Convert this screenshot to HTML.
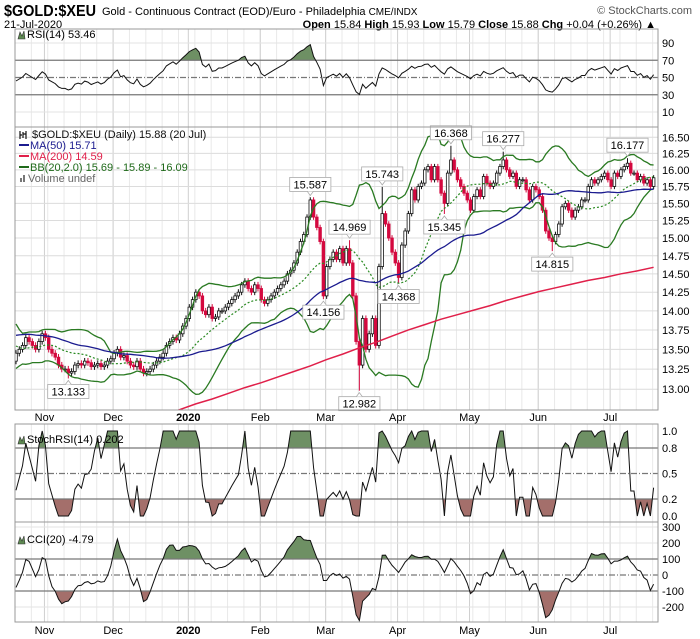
<!DOCTYPE html>
<html><head><meta charset="utf-8">
<style>
html,body{margin:0;padding:0;background:#fff;}
svg{display:block;font-family:"Liberation Sans",sans-serif;}
</style></head>
<body>
<svg id="chart" width="700" height="639" viewBox="0 0 700 639" xmlns="http://www.w3.org/2000/svg">
<text x="4" y="16" font-size="16" font-weight="bold" textLength="92" lengthAdjust="spacingAndGlyphs">$GOLD:$XEU</text>
<text x="102" y="15" font-size="11">Gold - Continuous Contract (EOD)/Euro - Philadelphia <tspan font-size="10">CME/INDX</tspan></text>
<text x="692" y="14" font-size="11" fill="#555" text-anchor="end">© StockCharts.com</text>
<text x="4" y="28" font-size="11">21-Jul-2020</text>
<text x="656" y="28" font-size="11" text-anchor="end"><tspan font-weight="bold">Open</tspan> 15.84 <tspan font-weight="bold">High</tspan> 15.93 <tspan font-weight="bold">Low</tspan> 15.79 <tspan font-weight="bold">Close</tspan> 15.88 <tspan font-weight="bold">Chg</tspan> +0.04 (+0.26%) ▲</text>
</svg>
<script>
// ---------- data ----------
const preCloses=[13.20,13.35,13.50,13.60,13.75,13.80,13.70,13.85,13.90,13.80,13.75,13.85,13.95,14.00,13.90,13.95,14.05,13.95,13.85,13.70,13.60,13.65,13.75,13.80,13.85,13.90,13.85,13.80,13.70,
13.85,13.90,13.80,13.60,13.45,13.40,13.50,13.55,13.45,13.40,13.50,13.55,13.60,13.75,13.70,13.55,13.45,13.50,13.40,13.35];
const closes=[13.45,13.50,13.55,13.65,13.60, 13.55,13.50,13.60,13.70,13.65, 13.50,13.45,13.40,13.30,13.25,
13.25,13.20,13.22,13.30,13.32, 13.30,13.35,13.33,13.28,13.30, 13.32,13.28,13.30,13.35,13.38,
13.45,13.50,13.40,13.42,13.35, 13.30,13.28,13.35,13.25,13.20, 13.22,13.25,13.30,13.35,13.40,
13.45,13.55,13.60,13.65,13.62, 13.70,13.80,13.90,14.05,14.15, 14.25,14.20,14.00,13.95,14.05,
13.90,13.92,14.00,14.00,14.05, 14.10,14.15,14.20,14.25,14.35, 14.40,14.30,14.25,14.35,14.30,
14.15,14.10,14.15,14.20,14.25, 14.30,14.35,14.40,14.50,14.55, 14.65,14.80,14.95,15.05,15.30,
15.55,15.30,15.15,14.95,14.20, 14.60,14.70,14.80,14.70,14.85, 14.65,14.85,14.65,14.20,13.60,
13.30,13.90,13.50,13.70,13.90, 13.55,14.60,15.35,15.20,15.00, 14.80,14.65,14.45,14.90,15.10,
15.35,15.70,15.55,15.75,15.80, 16.00,16.05,15.85,16.05,15.85, 15.65,15.50,15.95,16.15,16.00,
15.85,15.75,15.65,15.55,15.40, 15.60,15.70,15.60,15.90,15.80, 15.75,15.80,15.95,16.05,16.15,
16.00,15.90,15.95,15.75,15.85, 15.85,15.70,15.55,15.75,15.70, 15.60,15.40,15.10,15.00,14.95,
15.05,15.20,15.45,15.50,15.40, 15.30,15.40,15.45,15.55,15.55, 15.75,15.85,15.80,15.85,15.90,
15.95,15.85,15.75,15.95,15.90, 16.00,16.05,16.10,15.95,15.95, 15.85,15.90,15.80,15.85,15.75, 15.88];
const ma200Weekly=[12.10,12.16,12.22,12.28,12.35,12.41,12.48,12.55,12.61,12.68,12.75,12.82,12.88,12.95,13.02,13.08,13.15,13.22,13.29,13.37,
13.44,13.52,13.59,13.67,13.75,13.82,13.89,13.95,14.01,14.07,14.14,14.20,14.26,14.31,14.36,14.41,14.45,14.50,14.54,14.59];
const annIdx=[16,90,102,94,112,105,117,133,131,149,164,187];
const annVal=[13.133,15.587,14.969,14.156,15.743,12.982,14.368,16.368,15.345,16.277,14.815,16.177];
const annPos=['below','above','above','below','above','below','below','above','below','above','below','above'];
const monthIdx=[9,30,53,75,95,117,139,160,182];
const monthLabels=['Nov','Dec','2020','Feb','Mar','Apr','May','Jun','Jul'];
const priceTicks=[16.50,16.25,16.00,15.75,15.50,15.25,15.00,14.75,14.50,14.25,14.00,13.75,13.50,13.25,13.00];
const rsiTicks=[90,70,50,30,10];
const stochTicks=[1.0,0.8,0.5,0.2,0.0];
const cciTicks=[300,200,100,0,-100,-200];

// ---------- geometry ----------
const svg=document.getElementById('chart');
const NS='http://www.w3.org/2000/svg';
const L=15,R=658;
const P={rsi:[29,127],main:[127,410],stoch:[424,522],cci:[522,622]};
function xi(i){return 16+3.27*i;}
function yP(p){return 137.3+(Math.log(16.5)-Math.log(p))*1056.6;}
function yR(v){return 43+(90-v)*0.8625;}
function yS(v){return 516-85*v;}
function yC(v){return 575-0.16*v;}
function mk(tag,attrs,parent){const e=document.createElementNS(NS,tag);for(const k in attrs)e.setAttribute(k,attrs[k]);(parent||svg).appendChild(e);return e;}
function txt(x,y,s,attrs,parent){const e=mk('text',Object.assign({x:x,y:y,'font-size':11},attrs||{}),parent);e.textContent=s;return e;}

// ---------- computations ----------
const all=preCloses.concat(closes);
const N0=preCloses.length, N=closes.length;
const opens=[],highs=[],lows=[];
for(let k=0;k<all.length;k++){const o=k>0?all[k-1]:all[0];opens.push(o);highs.push(Math.max(o,all[k])+0.04);lows.push(Math.min(o,all[k])-0.04);}
for(let a=0;a<annIdx.length;a++){const k=N0+annIdx[a];if(annPos[a]==='above')highs[k]=Math.max(highs[k],annVal[a]);else lows[k]=Math.min(lows[k],annVal[a]);}
function sma(arr,k,n){let s=0;for(let j=k-n+1;j<=k;j++)s+=arr[j];return s/n;}
const ma50=[],bbM=[],bbU=[],bbL=[];
for(let i=0;i<N;i++){const k=N0+i;ma50.push(sma(all,k,50));const m=sma(all,k,20);let v=0;for(let j=k-19;j<=k;j++)v+=(all[j]-m)*(all[j]-m);const sd=Math.sqrt(v/20);bbM.push(m);bbU.push(m+2*sd);bbL.push(m-2*sd);}
const rsiAll=[];let ag=0,al=0;
for(let k=1;k<all.length;k++){const d=all[k]-all[k-1];const g=Math.max(d,0),l=Math.max(-d,0);
 if(k<=14){ag+=g/14;al+=l/14;}else{ag=(ag*13+g)/14;al=(al*13+l)/14;}
 rsiAll[k]=k>=14?(al===0?100:100-100/(1+ag/al)):null;}
const rsi=[],stoch=[],cci=[];
const tp=all.map((c,k)=>(highs[k]+lows[k]+c)/3);
for(let i=0;i<N;i++){const k=N0+i;rsi.push(rsiAll[k]);
 let mn=1e9,mx=-1e9;for(let j=k-13;j<=k;j++){mn=Math.min(mn,rsiAll[j]);mx=Math.max(mx,rsiAll[j]);}
 stoch.push(mx>mn?(rsiAll[k]-mn)/(mx-mn):0);
 const m=sma(tp,k,20);let md=0;for(let j=k-19;j<=k;j++)md+=Math.abs(tp[j]-m);md/=20;
 cci.push(md>0?(tp[k]-m)/(0.015*md):0);}

// ---------- panels ----------
const defs=mk('defs',{});
function clip(id,y0,y1){const c=mk('clipPath',{id:id},defs);mk('rect',{x:L,y:y0,width:R-L,height:y1-y0},c);}
clip('c-rsi',P.rsi[0],P.rsi[1]);clip('c-main',P.main[0],P.main[1]);clip('c-stoch',P.stoch[0],P.stoch[1]);clip('c-cci',P.cci[0],P.cci[1]);

function grid(name,y0,y1){
 const g=mk('g',{});
 
 
 for(let w=0;w*5<N;w++){mk('line',{x1:xi(w*5)-1,x2:xi(w*5)-1,y1:y0,y2:y1,stroke:'#e9e9e9','stroke-width':1},g);}
 for(let m=0;m<monthIdx.length;m++){mk('line',{x1:xi(monthIdx[m])-1,x2:xi(monthIdx[m])-1,y1:y0,y2:y1,stroke:'#cfcfcf','stroke-width':1},g);}
 return g;}
function hline(y,dash,col,name){const e=mk('line',{x1:L,x2:R,y1:y,y2:y,stroke:col||'#777','stroke-width':1.2,'stroke-dasharray':dash||'none'});
 
 return e;}
function poly(vals,yf,col,w,dash,clipId,name){let d='';vals.forEach((v,i)=>{if(v==null)return;d+=(d?'L':'M')+xi(i).toFixed(1)+','+yf(v).toFixed(1);});
 const e=mk('path',{d:d,fill:'none',stroke:col,'stroke-width':w,'stroke-dasharray':dash||'none','clip-path':'url(#'+clipId+')'});
 
 return e;}
function area(vals,yf,thr,above,col,y0,y1,name){const id='cl-'+name;const c=mk('clipPath',{id:id},defs);
 const yt=yf(thr);if(above)mk('rect',{x:L,y:y0,width:R-L,height:yt-y0},c);else mk('rect',{x:L,y:yt,width:R-L,height:y1-yt},c);
 let d='M'+xi(0)+','+yt;vals.forEach((v,i)=>{d+='L'+xi(i).toFixed(1)+','+yf(v).toFixed(1);});d+='L'+xi(vals.length-1)+','+yt+'Z';
 const e=mk('path',{d:d,fill:col,stroke:'none','clip-path':'url(#'+id+')'});
 
 }
function frame(name,y0,y1){const e=mk('rect',{x:L,y:y0,width:R-L,height:y1-y0,fill:'none',stroke:'#999','stroke-width':1});
 
 }
function ticks(name,vals,yf,fmt){vals.forEach(v=>{const t=txt(662,yf(v)+4,fmt(v));
 
 });}
function icon(x,y){const e=mk('path',{d:`M${x},${y}L${x+2},${y-7}L${x+4},${y-3}L${x+6},${y-8}L${x+7},${y}Z`,fill:'#5e8a52',stroke:'#333','stroke-width':0.6});
 
 }
const GREEN='#6e9064',RED='#a46f6b';

// RSI panel
grid('rsi',P.rsi[0],P.rsi[1]);
rsiTicks.forEach(v=>{if(v===10||v===90){const e=mk('line',{x1:L,x2:R,y1:yR(v),y2:yR(v),stroke:'#e3e3e3'});}});
area(rsi,yR,70,true,GREEN,P.rsi[0],P.rsi[1],'rsi-overbought-fill');
area(rsi,yR,30,false,RED,P.rsi[0],P.rsi[1],'rsi-oversold-fill');
hline(yR(70),null,null,'rsi-70-line');hline(yR(30),null,null,'rsi-30-line');hline(yR(50),'6,2,1,2',null,'rsi-50-line');
poly(rsi,yR,'#111',1,null,'c-rsi','rsi-line');
frame('rsi',P.rsi[0],P.rsi[1]);
ticks('rsi',rsiTicks,yR,v=>String(v));
icon(18,39);
const rl=txt(27,38,'RSI(14) 53.46');

// Main panel
grid('main',P.main[0],P.main[1]);
priceTicks.forEach(p=>{const e=mk('line',{x1:L,x2:R,y1:yP(p),y2:yP(p),stroke:'#dcdcdc'});});
const cg=mk('g',{'clip-path':'url(#c-main)'});


for(let i=0;i<N;i++){const k=N0+i,o=opens[k],c=all[k];const down=c<o;const col=down?'#d4093f':'#111';const x=xi(i);
 const w=mk('line',{x1:x,x2:x,y1:yP(highs[k]),y2:yP(lows[k]),stroke:col,'stroke-width':1},cg);
 
 
 const yt=yP(Math.max(o,c)),yb=yP(Math.min(o,c));
 const b=mk('rect',{x:x-1.3,y:yt,width:2.6,height:Math.max(yb-yt,1),fill:down?col:'#fff',stroke:col,'stroke-width':0.8},cg);
 
 }
poly(bbU,yP,'#2a7a22',1.3,null,'c-main','bb-upper');
poly(bbL,yP,'#2a7a22',1.3,null,'c-main','bb-lower');
poly(bbM,yP,'#2a8a22',1.2,'2,2','c-main','bb-middle');
poly(ma50,yP,'#1b1b8f',1.3,null,'c-main','ma50-line');
{let d='';ma200Weekly.forEach((v,w)=>{d+=(d?'L':'M')+xi(Math.min(w*5,N-1)).toFixed(1)+','+yP(v).toFixed(1);});
 const e=mk('path',{d:d,fill:'none',stroke:'#e0204a','stroke-width':1.5,'clip-path':'url(#c-main)'});
 
 }
for(let a=0;a<annIdx.length;a++){const x=xi(annIdx[a]);const s=annVal[a].toFixed(3);const bw=s.length*6.2+4;
 const ab=annPos[a]==='above';const yv=yP(annVal[a]);const by=ab?yv-20:yv+6;
 const g=mk('g',{});
 
 
 mk('rect',{x:x-bw/2,y:by,width:bw,height:14,fill:'#fff',stroke:'#aaa','stroke-width':0.8},g);
 mk('path',{d:ab?`M${x-3},${by+14}L${x},${by+18}L${x+3},${by+14}`:`M${x-3},${by}L${x},${by-4}L${x+3},${by}`,fill:'#fff',stroke:'#aaa','stroke-width':0.8},g);
 txt(x,by+11,s,{'text-anchor':'middle'},g);}
frame('main',P.main[0],P.main[1]);
ticks('price',priceTicks,yP,v=>v.toFixed(2));
const leg=[['$GOLD:$XEU (Daily) 15.88 (20 Jul)','#111','main-legend-symbol'],['MA(50) 15.71','#1b1b8f','legend-ma50'],['MA(200) 14.59','#e0204a','legend-ma200'],['BB(20,2.0) 15.69 - 15.89 - 16.09','#1f6a1a','legend-bb'],['Volume undef','#666','legend-volume']];
leg.forEach((l,j)=>{const y=138+j*11;
 if(j>0&&j<4){const e=mk('line',{x1:19,x2:29,y1:y-4,y2:y-4,stroke:l[1],'stroke-width':2});}
 const t=txt(j===0?32:j===4?28:30,y,l[0],{fill:l[1]});
 
 });
{const e=mk('path',{d:'M20,131v8M23,132v6M26,131v8M20,135h2M23,134h3',stroke:'#111','stroke-width':1.2});}
{const e=mk('path',{d:'M20,182v-4h2v4M23,182v-7h2v7',fill:'#777'});}

// month labels
function months(y,name){monthIdx.forEach((mi,j)=>{const t=txt(xi(mi)-1,y,monthLabels[j],{'text-anchor':'middle','font-weight':monthLabels[j]==='2020'?'bold':'normal'});
 
 });}
months(421,'month-label-main');

// StochRSI
grid('stoch',P.stoch[0],P.stoch[1]);
area(stoch,yS,0.8,true,GREEN,P.stoch[0],P.stoch[1],'stoch-overbought-fill');
area(stoch,yS,0.2,false,RED,P.stoch[0],P.stoch[1],'stoch-oversold-fill');
hline(yS(0.8),null,null,'stoch-08-line');hline(yS(0.2),null,null,'stoch-02-line');hline(yS(0.5),'6,2,1,2',null,'stoch-05-line');
poly(stoch,yS,'#111',1,null,'c-stoch','stochrsi-line');
frame('stoch',P.stoch[0],P.stoch[1]);
ticks('stoch',stochTicks,yS,v=>v.toFixed(1));
icon(18,444);
const sl=txt(27,443,'StochRSI(14) 0.202');

// CCI
grid('cci',P.cci[0],P.cci[1]);
[200,300,-200].forEach(v=>{const e=mk('line',{x1:L,x2:R,y1:yC(v),y2:yC(v),stroke:'#e3e3e3'});});
area(cci,yC,100,true,GREEN,P.cci[0],P.cci[1],'cci-high-fill');
area(cci,yC,-100,false,RED,P.cci[0],P.cci[1],'cci-low-fill');
hline(yC(100),null,null,'cci-100-line');hline(yC(-100),null,null,'cci-minus100-line');hline(yC(0),'6,2,1,2',null,'cci-zero-line');
poly(cci,yC,'#111',1,null,'c-cci','cci-line');
frame('cci',P.cci[0],P.cci[1]);
ticks('cci',cciTicks,yC,v=>String(v));
icon(18,544);
const ccl=txt(27,543,'CCI(20) -4.79');
months(634,'month-label-bottom');
</script>
</body></html>
